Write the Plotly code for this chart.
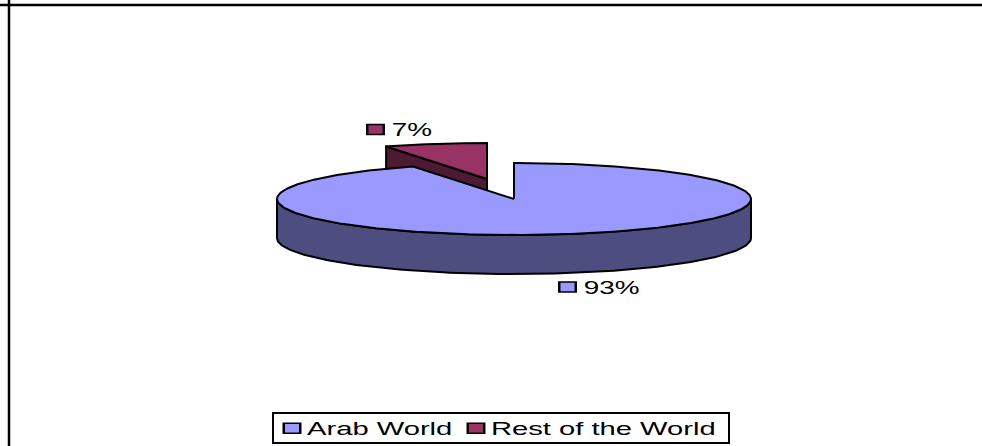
import numpy as np
import plotly.graph_objects as go

# shares
CATEGORIES = ["Arab World", "Rest of the World"]
SHARES = [93, 7]
TOP_COLORS = ["#9999FF", "#993366"]
WALL_COLORS = ["#4D4D80", "#4D1A33"]

# pie geometry in page pixels
CX, CY = 514, 199
RX, RY = 237, 36
DEPTH = 39
EXPLODE = (-27, -20)
LABEL_POS = [(567.5, 287), (375.5, 129.5)]
LABEL_STRETCH = 1.55
LEGEND_STRETCH = 1.62
FONT = dict(family="Liberation Sans, Arial, sans-serif", size=18, color="black")


def arc(cx, cy, start, end, n=120):
    # angles are fractions of the pie, clockwise from 12 o'clock
    t = np.linspace(start, end, n) * 2 * np.pi
    return cx + RX * np.sin(t), cy - RY * np.cos(t)


def add_poly(fig, x, y, color):
    fig.add_trace(go.Scatter(x=x, y=y, mode="lines", fill="toself", fillcolor=color,
                             line=dict(color="black", width=2), showlegend=False,
                             hoverinfo="skip"))


fig = go.Figure()

split = SHARES[0] / sum(SHARES)

# exploded slice first, the big slice covers the lower part of its wall
ex, ey = CX + EXPLODE[0], CY + EXPLODE[1]
ax, ay = arc(ex, ey, split, 1.0)
add_poly(fig, [ex, ax[0], ax[0], ex, ex], [ey, ay[0], ay[0] + DEPTH, ey + DEPTH, ey], WALL_COLORS[1])
add_poly(fig, np.r_[ex, ax, ex], np.r_[ey, ay, ey], TOP_COLORS[1])

# big slice: front wall then top face
wx, wy = arc(CX, CY, 0.25, 0.75)
add_poly(fig, np.r_[wx, wx[::-1], wx[0]], np.r_[wy, wy[::-1] + DEPTH, wy[0]], WALL_COLORS[0])
tx, ty = arc(CX, CY, 0.0, split, 400)
add_poly(fig, np.r_[CX, tx, CX], np.r_[CY, ty, CY], TOP_COLORS[0])

# data labels with their legend key
for share, color, (lx, ly) in zip(SHARES, TOP_COLORS, LABEL_POS):
    fig.add_trace(go.Scatter(x=[lx], y=[ly], mode="markers+text", text=[f"{share}%"],
                             textposition="middle right", textfont=FONT, cliponaxis=False,
                             marker=dict(symbol="square", size=10, color=color,
                                         line=dict(color="black", width=1.5)),
                             showlegend=False, hoverinfo="skip"))

# legend entries
for name, color in zip(CATEGORIES, TOP_COLORS):
    fig.add_trace(go.Scatter(x=[None], y=[None], mode="markers", name=name,
                             marker=dict(symbol="square", size=10, color=color,
                                         line=dict(color="black", width=1.5))))

fig.update_layout(
    width=982, height=446,
    margin=dict(l=0, r=0, t=0, b=0),
    paper_bgcolor="white", plot_bgcolor="white",
    font=FONT,
    xaxis=dict(range=[0, 982], visible=False, fixedrange=True),
    yaxis=dict(range=[446, 0], visible=False, fixedrange=True),
    legend=dict(x=272 / 982, y=1 - 443 / 446, xanchor="left", yanchor="bottom",
                orientation="h", bordercolor="black", borderwidth=2, bgcolor="white",
                entrywidth=139, entrywidthmode="pixels", font=FONT),
    shapes=[
        dict(type="line", xref="paper", yref="y", x0=0, x1=1, y0=5, y1=5,
             line=dict(color="black", width=2.5)),
        dict(type="line", xref="x", yref="paper", x0=9, x1=9, y0=0, y1=1,
             line=dict(color="black", width=2.5)),
    ],
)

# the source image is stretched sideways, so stretch text and keys the same way
POST = """
document.body.style.margin = '0';
var gd = document.getElementById('{plot_id}');
function stretch(sel, k) {
  gd.querySelectorAll(sel).forEach(function (t) {
    t.setAttribute('lengthAdjust', 'spacingAndGlyphs');
    t.setAttribute('textLength', t.getComputedTextLength() * k);
  });
}
stretch('text.legendtext', %s);
stretch('.textpoint text', %s);
gd.querySelectorAll('.textpoint text').forEach(function (t) {
  t.setAttribute('x', parseFloat(t.getAttribute('x')) + 9);
  t.setAttribute('y', parseFloat(t.getAttribute('y')) + 2);
});
gd.querySelectorAll('text.legendtext').forEach(function (t) {
  t.setAttribute('x', 33);
});
gd.querySelectorAll('.scatterlayer path.point').forEach(function (p) {
  p.setAttribute('transform', (p.getAttribute('transform') || '') + ' scale(1.65,1)');
});
gd.querySelectorAll('.legendpoints path.scatterpts').forEach(function (p) {
  p.setAttribute('transform', 'translate(-2,0) ' + (p.getAttribute('transform') || '') + ' scale(1.65,1)');
});
// legend box was sized for the unstretched text
var leg = gd.querySelector('g.legend');
var m = /translate\\(([-\\d.]+),\\s*([-\\d.]+)\\)/.exec(leg.getAttribute('transform'));
leg.setAttribute('transform', 'translate(' + m[1] + ',' + (parseFloat(m[2]) + 6) + ')');
var bg = leg.querySelector('rect.bg');
bg.setAttribute('width', 456);
bg.setAttribute('y', parseFloat(bg.getAttribute('y') || 0) + 4);
bg.setAttribute('height', 30);
gd.querySelectorAll('clipPath[id^="legend"] rect').forEach(function (r) {
  r.setAttribute('width', 456);
});
""" % (LEGEND_STRETCH, LABEL_STRETCH)

fig.write_html("out.html", post_script=POST, config=dict(displayModeBar=False))
